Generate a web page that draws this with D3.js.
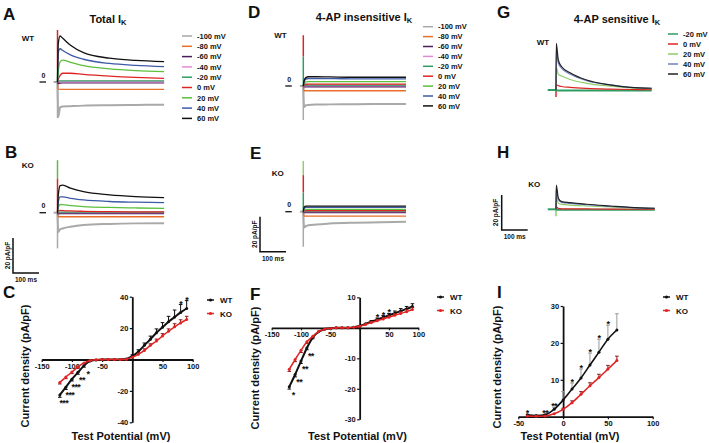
<!DOCTYPE html>
<html><head><meta charset="utf-8">
<script src="https://cdn.jsdelivr.net/npm/d3@7"></script>
<style>
body{margin:0;background:#fff}
text{font-family:Arial,"Liberation Sans",sans-serif;font-weight:bold;fill:#111}
</style>
</head><body>
<svg id="chart" width="709" height="443"></svg>
<script>
// ---------------- DATA ----------------
const traceLabels = ["-100 mV","-80 mV","-60 mV","-40 mV","-20 mV","0 mV","20 mV","40 mV","60 mV"];
const traceColors = ["#a9a9a9","#e8702a","#4b1f5e","#e48ad4","#2e9d63","#e02424","#5cbf3c","#3d5aa8","#111111"];
const sensLabels = ["-20 mV","0 mV","20 mV","40 mV","60 mV"];
const sensColors = ["#2e9d63","#e02424","#8fce6a","#6f7fbf","#222222"];

// time samples (ms)
const timeAB = [0,3,10,20,50,100,200,300,410];
const timeDE = [0,3,10,20,50,100,200,300,395];
const timeG  = [0,1,9,22,54,118,208,285,368];
const timeH  = [0,1,9,22,54,118,208,285,380];

// current density (pA/pF), rows follow traceLabels
const traceA = [
  [0,-20,-14.5,-14,-13.8,-13.5,-13.3,-13.1,-13],
  [0,-4,-4.2,-4.2,-4.2,-4.2,-4.2,-4.2,-4.2],
  [0,-0.8,-0.5,-0.4,-0.4,-0.4,-0.4,-0.4,-0.4],
  [0,0.2,0,0,0,0,0,0,0],
  [0,0.5,0.7,0.7,0.6,0.6,0.6,0.6,0.6],
  [0,1.5,3.8,5,5,4.3,3.3,2.6,2.1],
  [0,6,11.5,12.5,11.2,9.3,7.5,6.5,5.9],
  [0,17,19,18,15.5,13,10.6,9.5,8.8],
  [0,22,26.3,25,21,16.8,13.6,12.3,11.6]
];
const traceB = [
  [0,-11,-9.5,-9,-8,-7,-6.4,-6.1,-6],
  [0,-2.3,-2.3,-2.3,-2.3,-2.3,-2.3,-2.3,-2.3],
  [0,-0.5,-0.4,-0.4,-0.4,-0.4,-0.4,-0.4,-0.4],
  [0,0,0,0,0,0,0,0,0],
  [0,0.3,0.3,0.3,0.3,0.3,0.3,0.3,0.3],
  [0,1,1.3,1.2,1,0.8,0.6,0.5,0.5],
  [0,3,4.7,4.6,4,3.5,3,2.7,2.5],
  [0,6,9,9,8.2,7.3,6.4,6,5.7],
  [0,10,15.5,15.8,14,12,10.2,9.2,8.6]
];
const traceD = [
  [0,-12,-11,-10.8,-10.6,-10.5,-10.4,-10.3,-10.3],
  [0,-2.7,-2.7,-2.7,-2.7,-2.7,-2.7,-2.7,-2.7],
  [0,-0.4,-0.4,-0.4,-0.4,-0.4,-0.4,-0.4,-0.4],
  [0,0.1,0.1,0.1,0.1,0.1,0.1,0.1,0.1],
  [0,0.4,0.5,0.5,0.5,0.5,0.5,0.5,0.5],
  [0,0.6,1,1.1,1.1,1.1,1.1,1.1,1.1],
  [0,1.5,2.3,2.5,2.5,2.5,2.5,2.5,2.5],
  [0,2.5,4,4.2,4.2,4.2,4.1,4.1,4.1],
  [0,3,4.8,5.3,5.3,5.2,5,5,5]
];
const traceE = [
  [0,-9,-8.2,-7.8,-7.3,-6.8,-6.3,-6,-5.7],
  [0,-2.5,-2.5,-2.5,-2.5,-2.5,-2.5,-2.5,-2.5],
  [0,-0.4,-0.4,-0.4,-0.4,-0.4,-0.4,-0.4,-0.4],
  [0,0,0,0,0,0,0,0,0],
  [0,0.3,0.3,0.3,0.3,0.3,0.3,0.3,0.3],
  [0,0.5,0.6,0.6,0.6,0.6,0.6,0.6,0.6],
  [0,1,1.3,1.3,1.3,1.3,1.3,1.3,1.3],
  [0,2,2.5,2.5,2.5,2.5,2.5,2.5,2.5],
  [0,2.5,3.2,3.2,3.2,3.2,3.2,3.2,3.2]
];
// rows follow sensLabels
const traceG = [
  [0,-0.3,-0.3,-0.3,-0.3,-0.3,-0.3,-0.3,-0.3],
  [0,3,2.5,2,1.5,0.9,0.5,0.3,0.2],
  [0,13,9,8,6,3.8,2.2,1.2,0.8],
  [0,22.9,15.2,12.4,9.1,5.3,2.9,1.5,1],
  [0,26.7,17,13.3,9.9,5.7,2.9,1.5,1]
];
const traceH = [
  [0,-0.2,-0.2,-0.2,-0.2,-0.2,-0.2,-0.2,-0.2],
  [0,1.5,0.5,0.3,0.3,0.2,0.1,0.1,0],
  [0,7,3.5,2.8,2.4,1.9,1.3,0.8,0.4],
  [0,12,5.5,4,3.4,2.6,1.7,1,0.5],
  [0,13.9,6.3,4.4,3.8,2.9,1.9,1.1,0.6]
];
// capacitive transients [top, bottom]
const spikeA = [29.7,-20.6];
const spikeB = [30,-20.4];
const spikeD = [29,-19.4];
const spikeE = [29,-20];
const spikeG = [0,-4];
const spikeH = [3,-4];

// I-V data
const ivVolt = [-120,-110,-100,-90,-80,-70,-60,-50,-40,-30,-20,-10,0,10,20,30,40,50,60,70,80,90];
const wtC    = [-22.6,-17.6,-12.5,-8.2,-3.9,-1.0,-0.3,0,0,0,0,0.3,2.2,5,9,12.9,17,20.5,24,27,30,32.5];
const wtCErr = [1.5,1.5,1.2,1.2,1,0.5,0.3,0.2,0.2,0.2,0.2,0.3,0.8,1.2,1.5,2,2.5,3,3.5,4.5,5,5];
const koC    = [-14.6,-11.2,-8,-4.7,-2.2,-0.6,-0.1,0,0,0,0,0.2,1.5,3.3,5.8,9,11.8,15,18,20.8,23.3,25.5];
const koCErr = [1,1,1,0.8,0.5,0.3,0.2,0.2,0.2,0.2,0.2,0.2,0.5,0.8,1,1,1.2,1.5,1.5,2,2,2];
const wtF    = [-19.3,-15.3,-10.9,-6.6,-3.2,-1.3,-0.5,-0.2,0,0,0,0.2,0.6,1.3,2,2.7,3.4,4.1,4.8,5.5,6.2,7];
const wtFErr = [0.8,0.8,0.8,0.6,0.4,0.2,0.1,0.1,0.1,0.1,0.1,0.1,0.2,0.3,0.4,0.5,0.6,0.6,0.7,0.8,0.8,0.9];
const koF    = [-13.6,-10.4,-7.4,-4.6,-2.8,-1.2,-0.5,-0.2,0,0,0,0.2,0.5,1.1,1.7,2.3,2.9,3.5,4.1,4.7,5.3,6];
const koFErr = [0.7,0.7,0.7,0.5,0.4,0.2,0.1,0.1,0.1,0.1,0.1,0.1,0.2,0.3,0.4,0.4,0.5,0.5,0.6,0.6,0.7,0.7];
const ivVoltI = [-40,-30,-20,-10,0,10,20,30,40,50,60];
const wtI    = [0.5,0.3,0.5,2.0,4.5,7.5,10.5,14,17.5,21,23.5];
const wtIErr = [0.2,0.2,0.2,0.5,2.3,1.6,2.4,3.2,3.5,3.8,4.4];
const koI    = [0.2,0.1,0.2,0.8,2.0,3.8,6.1,8.4,10.6,12.9,15.2];
const koIErr = [0.1,0.1,0.1,0.2,0.3,0.5,0.7,0.8,0.9,1.0,1.2];

const sigCVolt = [-120,-110,-100,-90,-80,80,90];
const sigCText = ["***","***","***","**","*","*","*"];
const sigFVolt = [-120,-110,-100,-90,30,40,50];
const sigFText = ["*","**","**","**","*","*","*"];
const sigIVolt = [-40,-20,-10,10,20,30,40,50];
const sigIText = ["*","**","**","*","*","*","*","*"];

const xTicksCF = [-150,-100,-50,0,50,100];
const yTicksC = [-40,-20,0,20,40];
const yTicksF = [-30,-20,-10,0,10];
const xTicksI = [-50,0,50,100];
const yTicksI = [0,10,20,30];

// ---------------- DRAWING ----------------
const svg = d3.select("#chart");
const red = "#e02424";

function txt(x,y,s,size,anchor){
  return svg.append("text").attr("x",x).attr("y",y).attr("font-size",size)
    .attr("text-anchor",anchor||"start").text(s);
}

// panel letters
[["A",3,19.5],["B",5,157.5],["C",3,298],["D",248,17.5],["E",250,158.5],["F",250,300],
 ["G",497,17.5],["H",497,157.5],["I",497,298]].forEach(d=>txt(d[1],d[2],d[0],17));

// titles with subscript
function title(cx,y,main){
  const t = svg.append("text").attr("x",cx).attr("y",y).attr("font-size",11).attr("text-anchor","middle");
  t.append("tspan").text(main);
  t.append("tspan").attr("font-size",7.5).attr("dy",2.5).text("K");
}
title(108,22.7,"Total I");
title(364,20.7,"4-AP insensitive I");
title(617,22.7,"4-AP sensitive I");

// group labels
txt(21.7,40.7,"WT",8); txt(274.3,37.7,"WT",8); txt(536.7,45.3,"WT",8);
txt(21.7,168,"KO",8); txt(271.7,176,"KO",8); txt(528.3,186.7,"KO",8);

function tracePanel(cfg){
  const x = d3.scaleLinear().domain([0,100]).range([cfg.x0,cfg.x0+26]);
  const y = d3.scaleLinear().domain([0,20]).range([cfg.y0,cfg.y0-35]);
  const g = svg.append("g");
  g.append("line").attr("x1",x(cfg.pre)).attr("x2",x(0)).attr("y1",y(0)).attr("y2",y(0))
    .attr("stroke",cfg.preColor).attr("stroke-width",cfg.preWidth||2);
  const line = d3.line().x(d=>x(d[0])).y(d=>y(d[1])).curve(d3.curveMonotoneX);
  const sp = cfg.spike;
  g.append("line").attr("x1",x(0)).attr("x2",x(0)).attr("y1",y(0)).attr("y2",y(sp[1]))
    .attr("stroke",cfg.spikeLow).attr("stroke-width",1.5);
  (cfg.bands||[]).forEach(b=>{
    g.append("line").attr("x1",x(0)).attr("x2",x(0)).attr("y1",y(sp[0]*b[0])).attr("y2",y(sp[0]*b[1]))
      .attr("stroke",b[2]).attr("stroke-width",1.5);
  });
  cfg.data.forEach((vals,i)=>{
    const pts = cfg.time.map((t,j)=>[t,vals[j]]);
    g.append("path").attr("d",line(pts)).attr("fill","none")
      .attr("stroke",cfg.colors[i]).attr("stroke-width",(cfg.widths&&cfg.widths[i])||1.3);
  });
  if(cfg.zero){
    g.append("text").attr("x",x(0)-14).attr("y",y(0)-4.3).attr("font-size",7)
      .attr("text-anchor","middle").text("0");
    g.append("line").attr("x1",x(0)-18).attr("x2",x(0)-11.5).attr("y1",y(0)).attr("y2",y(0))
      .attr("stroke","#111").attr("stroke-width",1.3);
  }
  if(cfg.bar){
    const bx = cfg.bar[0], by = cfg.bar[1];
    const h = y(0)-y(20), w = x(100)-x(0);
    g.append("path").attr("d",`M${bx},${by-h}V${by}H${bx+w}`).attr("fill","none")
      .attr("stroke","#111").attr("stroke-width",1.5);
    g.append("text").attr("transform",`translate(${bx-3.5},${by-h/2}) rotate(-90)`)
      .attr("font-size",6.5).attr("text-anchor","middle").text("20 pA/pF");
    g.append("text").attr("x",bx+w/2).attr("y",by+9).attr("font-size",6.5)
      .attr("text-anchor","middle").text("100 ms");
  }
}
const wideW = [2,1.3,1.8,1.3,1.3,1.3,1.3,1.3,1.3];
tracePanel({x0:57.5,y0:82,pre:-15,preColor:"#a9a9a9",data:traceA,time:timeAB,colors:traceColors,widths:wideW,
  spike:spikeA,spikeLow:"#a9a9a9",bands:[[1,0.25,red],[0.25,0,"#2e9d63"]],zero:true});
tracePanel({x0:57.5,y0:212.7,pre:-15,preColor:"#a9a9a9",data:traceB,time:timeAB,colors:traceColors,widths:wideW,
  spike:spikeB,spikeLow:"#a9a9a9",bands:[[1,0.65,"#5cbf3c"],[0.65,0,red]],zero:true,bar:[13,273]});
tracePanel({x0:303.3,y0:86,pre:-13,preColor:"#a9a9a9",data:traceD,time:timeDE,colors:traceColors,widths:wideW,
  spike:spikeD,spikeLow:"#a9a9a9",bands:[[1,0.58,red],[0.58,0,"#2e9d63"]],zero:true});
tracePanel({x0:303.3,y0:211.7,pre:-13,preColor:"#a9a9a9",data:traceE,time:timeDE,colors:traceColors,widths:wideW,
  spike:spikeE,spikeLow:"#a9a9a9",bands:[[1,0.72,"#8fce6a"],[0.72,0.38,red],[0.38,0,"#2e9d63"]],zero:true,bar:[260,251.7]});
tracePanel({x0:556,y0:90,pre:-32,preColor:"#2e9d63",data:traceG,time:timeG,colors:sensColors,widths:[2,1.2,1.2,1.2,1.2],
  spike:spikeG,spikeLow:red});
tracePanel({x0:556,y0:209.3,pre:-32,preColor:"#2e9d63",data:traceH,time:timeH,colors:sensColors,widths:[2,1.2,1.2,1.2,1.2],
  spike:spikeH,spikeLow:"#8fce6a",bands:[[1,0,"#8fce6a"]],bar:[501.7,230]});

// trace legends
function traceLegend(x,y0,step,labels,colors){
  labels.forEach((l,i)=>{
    const y = y0+i*step;
    svg.append("line").attr("x1",x).attr("x2",x+10).attr("y1",y).attr("y2",y)
      .attr("stroke",colors[i]).attr("stroke-width",1.5);
    txt(x+15,y+2.7,l,7.5);
  });
}
traceLegend(182,36,10.3,traceLabels,traceColors);
traceLegend(423,26.7,9.9,traceLabels,traceColors);
traceLegend(668,34,10,sensLabels,sensColors);

// I-V panels
function ivPanel(cfg){
  const x = d3.scaleLinear().domain(cfg.xd).range(cfg.xr);
  const y = d3.scaleLinear().domain(cfg.yd).range(cfg.yr);
  const g = svg.append("g");
  const fmt = d=> d===0 && !cfg.showX0 ? "" : d;
  const ax = g.append("g").attr("transform",`translate(0,${y(0)})`)
    .call(d3.axisBottom(x).tickValues(cfg.xt).tickSize(2.5).tickSizeOuter(0).tickPadding(1.5).tickFormat(fmt));
  const ay = g.append("g").attr("transform",`translate(${x(0)},0)`)
    .call(d3.axisLeft(y).tickValues(cfg.yt).tickSize(2.5).tickSizeOuter(0).tickPadding(1.5).tickFormat(d=>d===0?"":d));
  [ax,ay].forEach(a=>{
    a.select(".domain").attr("stroke","#111").attr("stroke-width",1.8);
    a.selectAll(".tick line").attr("stroke","#111").attr("stroke-width",1.2);
    a.selectAll(".tick text").attr("font-size",7.5).attr("font-family","Arial, 'Liberation Sans', sans-serif")
      .attr("font-weight","bold").attr("fill","#111");
  });
  const line = d3.line().x(d=>x(d[0])).y(d=>y(d[1])).curve(d3.curveMonotoneX);
  cfg.series.forEach(s=>{
    const pts = cfg.v.map((v,i)=>[v,s.val[i]]);
    cfg.v.forEach((v,i)=>{
      const val = s.val[i], e = s.err[i]*(val<0?-1:1);
      const y1 = y(val), y2 = y(val+e);
      if(Math.abs(y2-y1)<1) return;
      g.append("line").attr("x1",x(v)).attr("x2",x(v)).attr("y1",y1).attr("y2",y2)
        .attr("stroke",s.errColor).attr("stroke-width",1);
      g.append("line").attr("x1",x(v)-1.8).attr("x2",x(v)+1.8).attr("y1",y2).attr("y2",y2)
        .attr("stroke",s.errColor).attr("stroke-width",1);
    });
    g.append("path").attr("d",line(pts)).attr("fill","none").attr("stroke",s.color).attr("stroke-width",s.width);
    g.selectAll(null).data(pts).enter().append("circle")
      .attr("cx",d=>x(d[0])).attr("cy",d=>y(d[1])).attr("r",1.5).attr("fill",s.color);
  });
  const wt = cfg.series[0];
  cfg.sigV.forEach((v,i)=>{
    const k = cfg.v.indexOf(v), val = wt.val[k];
    let px, py;
    if(val<0){ px = x(v)+(cfg.sigDx||3); py = y(val)+11; }
    else { px = x(v); py = y(val+wt.err[k])+2; }
    g.append("text").attr("x",px).attr("y",py).attr("font-size",9).attr("letter-spacing",-0.6)
      .attr("text-anchor","middle").text(cfg.sigT[i]);
  });
  g.append("text").attr("transform",`translate(${cfg.ytX},${cfg.ytY}) rotate(-90)`)
    .attr("font-size",11).attr("text-anchor","middle").text("Current density (pA/pF)");
  g.append("text").attr("x",cfg.xtX).attr("y",439.5).attr("font-size",11).attr("text-anchor","middle")
    .text("Test Potential (mV)");
  [["WT","#111"],["KO",red]].forEach((d,i)=>{
    const ly = cfg.legY+i*13.5;
    g.append("line").attr("x1",cfg.legX).attr("x2",cfg.legX+7).attr("y1",ly).attr("y2",ly)
      .attr("stroke",d[1]).attr("stroke-width",1.5);
    g.append("circle").attr("cx",cfg.legX+3.5).attr("cy",ly).attr("r",1.6).attr("fill",d[1]);
    g.append("text").attr("x",cfg.legX+13).attr("y",ly+3).attr("font-size",8).text(d[0]);
  });
}
ivPanel({xd:[-150,100],xr:[41.7,192.7],yd:[-40,40],yr:[422.3,296.7],xt:xTicksCF,yt:yTicksC,v:ivVolt,
  series:[{val:wtC,err:wtCErr,color:"#111",errColor:"#111",width:2},{val:koC,err:koCErr,color:red,errColor:"#8a1a1a",width:1.5}],
  sigV:sigCVolt,sigT:sigCText,sigDx:4,ytX:29,ytY:366,xtX:121,legX:207,legY:300});
ivPanel({xd:[-150,100],xr:[271.7,418.3],yd:[-30,10],yr:[419.3,297.3],xt:xTicksCF,yt:yTicksF,v:ivVolt,
  series:[{val:wtF,err:wtFErr,color:"#111",errColor:"#111",width:2},{val:koF,err:koFErr,color:red,errColor:"#8a1a1a",width:1.5}],
  sigV:sigFVolt,sigT:sigFText,sigDx:4,ytX:259,ytY:368,xtX:357.5,legX:437,legY:297});
ivPanel({xd:[-50,100],xr:[518.3,652.7],yd:[0,30],yr:[416.7,306],xt:xTicksI,yt:yTicksI,v:ivVoltI,showX0:true,
  series:[{val:wtI,err:wtIErr,color:"#111",errColor:"#999",width:1.6},{val:koI,err:koIErr,color:red,errColor:"#8a1a1a",width:1.5}],
  sigV:sigIVolt,sigT:sigIText,ytX:501,ytY:367,xtX:570,legX:663,legY:297});
</script>
</body></html>
